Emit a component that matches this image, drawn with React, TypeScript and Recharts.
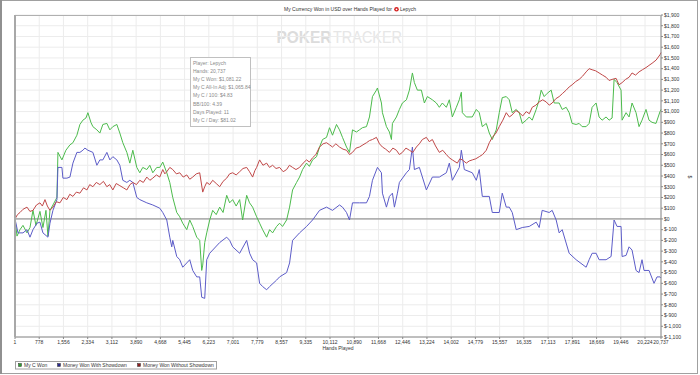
import { LineChart, Line, XAxis, YAxis, CartesianGrid, ReferenceLine } from 'recharts';

// [hand, dollars]
const myCWon: [number, number][] = [
  [1, 0], [65, -160], [161, -100], [257, -60], [386, -130], [482, -80], [578, 80], [674, -60], [802, 70], [898, -80],
  [995, 80], [1059, -160], [1123, 80], [1219, 130], [1347, 200], [1379, 620], [1507, 550], [1635, 640], [1764, 690], [1860, 710],
  [1988, 780], [2084, 880], [2180, 920], [2277, 940], [2341, 990], [2437, 900], [2501, 860], [2629, 830], [2725, 800], [2821, 880],
  [2950, 890], [3046, 830], [3142, 860], [3270, 880], [3366, 800], [3462, 710], [3591, 620], [3687, 520], [3783, 640], [3911, 480],
  [4007, 430], [4103, 480], [4232, 460], [4328, 500], [4424, 430], [4552, 480], [4648, 480], [4744, 530], [4873, 430], [4969, 340],
  [5065, 200], [5193, 60], [5289, 20], [5385, -40], [5514, -100], [5610, -10], [5706, -70], [5834, -170], [5930, -200], [5995, -480],
  [6027, -430], [6091, -220], [6155, -130], [6251, -10], [6347, 80], [6460, 40], [6571, 110], [6680, 60], [6796, 220], [6890, 150],
  [6988, 180], [7100, 120], [7212, 180], [7308, -10], [7437, 220], [7530, 150], [7629, 110], [7757, 20], [7853, -40], [7950, -100],
  [8078, -170], [8174, -100], [8270, -130], [8398, -70], [8494, -40], [8590, -70], [8719, -10], [8815, 110], [8911, 270], [9039, 340],
  [9135, 390], [9232, 460], [9360, 520], [9450, 490], [9552, 550], [9680, 580], [9777, 670], [9873, 740], [10001, 760], [10097, 850],
  [10193, 780], [10321, 880], [10417, 830], [10513, 760], [10642, 670], [10738, 620], [10834, 830], [10962, 810], [11058, 830], [11154, 850],
  [11283, 860], [11379, 950], [11475, 1140], [11603, 1200], [11635, 1220], [11763, 1080], [11795, 990], [11924, 860], [12020, 810], [12084, 740],
  [12116, 890], [12244, 950], [12340, 1020], [12436, 1080], [12565, 1110], [12661, 1200], [12757, 1360], [12821, 1270], [12917, 1200], [13045, 1200],
  [13142, 1080], [13238, 1140], [13398, 1110], [13526, 1080], [13622, 1040], [13719, 1080], [13847, 1040], [13943, 1110], [14039, 950], [14167, 1040],
  [14263, 1110], [14328, 1180], [14360, 990], [14488, 950], [14680, 950], [14808, 1020], [14904, 990], [15001, 860], [15129, 890], [15225, 800],
  [15321, 740], [15449, 830], [15545, 990], [15641, 1130], [15770, 1140], [15866, 1110], [15962, 990], [16090, 1020], [16186, 990], [16283, 890],
  [16411, 920], [16507, 950], [16603, 920], [16731, 1020], [16827, 1110], [16891, 1200], [16987, 1140], [17084, 1170], [17212, 1200], [17308, 1080],
  [17468, 1080], [17565, 1020], [17693, 1040], [17789, 990], [17885, 890], [18013, 880], [18109, 890], [18205, 860], [18334, 860], [18430, 890],
  [18526, 1040], [18654, 1080], [18750, 950], [18847, 920], [18975, 950], [19071, 920], [19167, 940], [19231, 1300], [19327, 1270], [19455, 1200],
  [19488, 920], [19616, 990], [19712, 950], [19808, 1080], [19936, 990], [20032, 860], [20128, 920], [20256, 1020], [20353, 920], [20449, 900],
  [20577, 890], [20705, 1000], [20737, 1020],
];

const wonWithShowdown: [number, number][] = [
  [1, 0], [97, -130], [257, -130], [386, -100], [482, -170], [578, -100], [706, -40], [802, -30], [898, -130], [1059, -170],
  [1123, -40], [1219, 80], [1347, 180], [1379, 480], [1507, 480], [1539, 380], [1668, 380], [1764, 390], [1860, 520], [1988, 620],
  [2084, 620], [2180, 640], [2244, 660], [2341, 640], [2501, 620], [2629, 500], [2725, 550], [2821, 550], [2950, 620], [3046, 550],
  [3142, 580], [3270, 550], [3366, 500], [3462, 360], [3591, 340], [3687, 360], [3783, 340], [3911, 200], [4007, 180], [4232, 150],
  [4424, 130], [4648, 100], [4744, 60], [4873, -10], [4969, -170], [5033, -260], [5065, -200], [5193, -350], [5289, -380], [5385, -450],
  [5514, -410], [5610, -380], [5706, -480], [5834, -540], [5930, -540], [5995, -730], [6091, -740], [6155, -380], [6251, -320], [6347, -290],
  [6571, -220], [6796, -170], [6892, -200], [6988, -260], [7212, -320], [7437, -200], [7533, -320], [7629, -380], [7757, -410], [7853, -600],
  [7950, -630], [8078, -660], [8174, -630], [8398, -570], [8494, -540], [8719, -500], [8815, -410], [8911, -200], [9135, -130], [9360, -70],
  [9552, -10], [9777, 80], [10001, 110], [10193, 80], [10417, 130], [10513, 110], [10642, 60], [10738, -10], [10834, 150], [11058, 150],
  [11283, 150], [11379, 210], [11475, 360], [11635, 480], [11763, 430], [11795, 240], [11924, 110], [12020, 210], [12116, 240], [12180, 110],
  [12276, 240], [12340, 340], [12565, 430], [12661, 460], [12757, 670], [12821, 460], [12981, 480], [13206, 270], [13398, 390], [13622, 390],
  [13847, 430], [13943, 520], [14039, 360], [14263, 480], [14328, 640], [14424, 460], [14680, 430], [14808, 360], [14904, 460], [15001, 210],
  [15225, 210], [15321, 60], [15545, 60], [15641, 240], [15770, 110], [15866, 110], [15962, 60], [16090, -100], [16283, -80], [16507, -70],
  [16731, -30], [16827, -80], [16923, 80], [17148, 60], [17244, 80], [17372, -10], [17468, -130], [17565, -100], [17789, -320], [18013, -380],
  [18334, -450], [18430, -380], [18526, -320], [18654, -320], [18750, -380], [18975, -380], [19135, -350], [19231, -10], [19327, -70], [19455, -70],
  [19488, -350], [19616, -340], [19712, -260], [19808, -290], [19936, -480], [20032, -500], [20128, -380], [20192, -480], [20353, -480], [20513, -600],
  [20609, -540], [20705, -540], [20737, -550],
];

const wonWithoutShowdown: [number, number][] = [
  [1, 0], [80, 40], [161, 60], [260, 90], [386, 110], [480, 70], [578, 80], [690, 130], [802, 150], [880, 120],
  [963, 180], [1040, 120], [1123, 80], [1219, 110], [1330, 160], [1443, 150], [1550, 200], [1668, 180], [1760, 230], [1860, 210],
  [1970, 250], [2084, 240], [2200, 290], [2309, 270], [2400, 320], [2501, 300], [2610, 340], [2725, 320], [2840, 350], [2950, 300],
  [3040, 320], [3142, 270], [3250, 330], [3366, 310], [3480, 290], [3591, 270], [3690, 320], [3783, 340], [3900, 320], [4007, 360],
  [4120, 340], [4232, 390], [4330, 360], [4424, 380], [4540, 410], [4648, 390], [4744, 460], [4810, 420], [4873, 440], [4970, 480],
  [5065, 460], [5180, 420], [5289, 430], [5400, 390], [5514, 410], [5610, 370], [5706, 390], [5820, 420], [5930, 430], [6027, 250],
  [6090, 300], [6155, 340], [6250, 320], [6347, 360], [6460, 330], [6571, 300], [6680, 350], [6796, 380], [6890, 420], [6988, 430],
  [7100, 410], [7212, 440], [7320, 470], [7437, 480], [7530, 440], [7629, 390], [7700, 450], [7757, 480], [7853, 550], [7960, 500],
  [8078, 520], [8170, 480], [8270, 500], [8380, 470], [8494, 480], [8610, 440], [8719, 460], [8810, 500], [8911, 480], [9020, 460],
  [9135, 480], [9250, 520], [9360, 550], [9450, 530], [9552, 570], [9660, 600], [9777, 670], [9890, 700], [10001, 710], [10100, 690],
  [10193, 670], [10300, 700], [10417, 670], [10530, 650], [10642, 640], [10740, 600], [10834, 620], [10950, 660], [11058, 670], [11170, 690],
  [11283, 710], [11380, 730], [11475, 740], [11603, 760], [11700, 700], [11795, 670], [11900, 650], [12020, 620], [12130, 660], [12244, 640],
  [12340, 600], [12436, 620], [12550, 660], [12661, 640], [12770, 620], [12885, 670], [12980, 700], [13077, 740], [13206, 760], [13300, 720],
  [13398, 740], [13500, 680], [13622, 620], [13730, 640], [13847, 600], [13940, 570], [14039, 550], [14199, 520], [14280, 560], [14360, 550],
  [14488, 520], [14580, 540], [14680, 550], [14790, 560], [14904, 580], [15010, 600], [15129, 640], [15225, 710], [15321, 760], [15440, 800],
  [15545, 860], [15660, 920], [15770, 990], [15870, 950], [15962, 970], [16080, 1010], [16186, 990], [16300, 960], [16411, 1000], [16510, 980],
  [16603, 1040], [16720, 1060], [16827, 1090], [16940, 1110], [17052, 1090], [17150, 1060], [17244, 1080], [17360, 1120], [17468, 1140], [17580, 1170],
  [17693, 1200], [17790, 1230], [17885, 1250], [18000, 1280], [18109, 1300], [18220, 1330], [18334, 1370], [18430, 1400], [18526, 1390], [18640, 1380],
  [18750, 1360], [18860, 1340], [18975, 1320], [19070, 1290], [19167, 1300], [19295, 1310], [19390, 1250], [19488, 1270], [19600, 1300], [19712, 1320],
  [19808, 1360], [19920, 1340], [20032, 1370], [20140, 1390], [20256, 1410], [20350, 1430], [20449, 1450], [20580, 1480], [20705, 1530], [20737, 1550],
];

const handTicks = [
  1, 778, 1556, 2334, 3112, 3890, 4668, 5445, 6223, 7001, 7779, 8557, 9335, 10112,
  10890, 11668, 12446, 13224, 14002, 14779, 15557, 16335, 17113, 17891, 18669, 19446, 20224, 20737,
];

const dollarTicks = [
  -1100, -1000, -900, -800, -700, -600, -500, -400, -300, -200, -100, 0, 100, 200, 300, 400,
  500, 600, 700, 800, 900, 1000, 1100, 1200, 1300, 1400, 1500, 1600, 1700, 1800, 1900,
];

const statLines = [
  'Player: Lepych',
  'Hands: 20,737',
  'My C Won: $1,081.22',
  'My C All-In Adj: $1,065.84',
  'My C / 100: $4.83',
  'BB/100: 4.39',
  'Days Played: 11',
  'My C / Day: $81.02',
];

const seriesNames = ['My C Won', 'Money Won With Showdown', 'Money Won Without Showdown'];

const font = '"Liberation Sans", Arial, sans-serif';

const toRows = (pts: [number, number][]) => pts.map(([hand, v]) => ({ hand, v }));

const fmtDollar = (v: number) => (v < 0 ? `$-${Math.abs(v).toLocaleString('en-US')}` : `$${v.toLocaleString('en-US')}`);

export default function App() {
  return (
    <div style={{ position: 'absolute', left: 0, top: 0, width: 700, height: 375, background: '#fff', fontFamily: font }}>
      <svg width={700} height={375} style={{ position: 'absolute', left: 0, top: 0 }}>
        <text x={276.5} y={42.5} fontSize={17} fontWeight="bold" fill="#dcdcdc" fontFamily={font} textLength={55} lengthAdjust="spacingAndGlyphs">
          POKER
        </text>
        <text x={333} y={42.5} fontSize={17} fill="#e6e6e6" fontFamily={font} textLength={69} lengthAdjust="spacingAndGlyphs">
          TRACKER
        </text>
      </svg>
      <div style={{ position: 'absolute', left: 0, top: 0 }}>
        <LineChart width={700} height={375} margin={{ top: 15, right: 0, bottom: 0, left: 15 }}>
          <CartesianGrid stroke="#ececec" strokeWidth={1} />
          <XAxis
            type="number"
            dataKey="hand"
            domain={[1, 20737]}
            ticks={handTicks}
            interval={0}
            height={38}
            tickSize={2}
            tickMargin={1}
            tickFormatter={(v: number) => v.toLocaleString('en-US')}
            tick={{ fontSize: 5, fill: '#333', fontFamily: font }}
            stroke="#888"
          />
          <YAxis
            orientation="right"
            type="number"
            domain={[-1100, 1900]}
            ticks={dollarTicks}
            interval={0}
            width={39}
            tickSize={2}
            tickMargin={1}
            tickFormatter={fmtDollar}
            tick={{ fontSize: 5, fill: '#333', fontFamily: font }}
            stroke="#888"
          />
          <ReferenceLine y={0} stroke="#808080" strokeWidth={1} />
          <Line data={toRows(myCWon)} dataKey="v" stroke="#4cbb4c" strokeWidth={1} dot={false} isAnimationActive={false} />
          <Line data={toRows(wonWithShowdown)} dataKey="v" stroke="#5c5cc8" strokeWidth={1} dot={false} isAnimationActive={false} />
          <Line data={toRows(wonWithoutShowdown)} dataKey="v" stroke="#c04848" strokeWidth={1} dot={false} isAnimationActive={false} />
        </LineChart>
      </div>
      <svg width={700} height={375} style={{ position: 'absolute', left: 0, top: 0, pointerEvents: 'none' }}>
        <rect x={0.5} y={0.5} width={697} height={373} fill="none" stroke="#a0a0a0" />
        <line x1={1} y1={0} x2={1} y2={374} stroke="#909090" strokeWidth={2} />
        <line x1={15} y1={15.5} x2={661} y2={15.5} stroke="#b0b0b0" />
        <line x1={15} y1={15} x2={15} y2={337} stroke="#a8a8a8" strokeWidth={2} />

        <text x={392} y={11} fontSize={5} fill="#333" textAnchor="end" fontFamily={font}>
          My Currency Won in USD over Hands Played for
        </text>
        <circle cx={396.5} cy={9.3} r={2.3} fill="#d42020" />
        <circle cx={396.5} cy={9.3} r={0.9} fill="#fff" />
        <text x={400} y={11} fontSize={5} fill="#333" fontFamily={font}>
          Lepych
        </text>

        <text x={338} y={350} fontSize={5} fill="#333" textAnchor="middle" fontFamily={font}>
          Hands Played
        </text>
        <text x={688} y={177} fontSize={5} fill="#333" textAnchor="middle" fontFamily={font} transform="rotate(90 688 177)">
          $
        </text>

        <rect x={190.5} y={57.5} width={60} height={69} fill="#fff" stroke="#c0c0c0" />
        {statLines.map((s, i) => (
          <text key={s} x={193} y={65 + i * 8.1} fontSize={5} fill="#8a8a8a" fontFamily={font}>
            {s}
          </text>
        ))}

        <rect x={15.5} y={361.5} width={201} height={7.5} fill="#fff" stroke="#a0a0a0" />
        {seriesNames.map((name, i) => {
          const x = [18, 57, 137][i];
          const c = ['#2e9e2e', '#2a2a8c', '#8c1e1e'][i];
          return (
            <g key={name}>
              <rect x={x + 0.5} y={363.5} width={3} height={3} fill={c} stroke="#333" strokeWidth={0.5} />
              <text x={x + 6} y={367.2} fontSize={5} fill="#333" fontFamily={font}>
                {name}
              </text>
            </g>
          );
        })}
      </svg>
    </div>
  );
}
